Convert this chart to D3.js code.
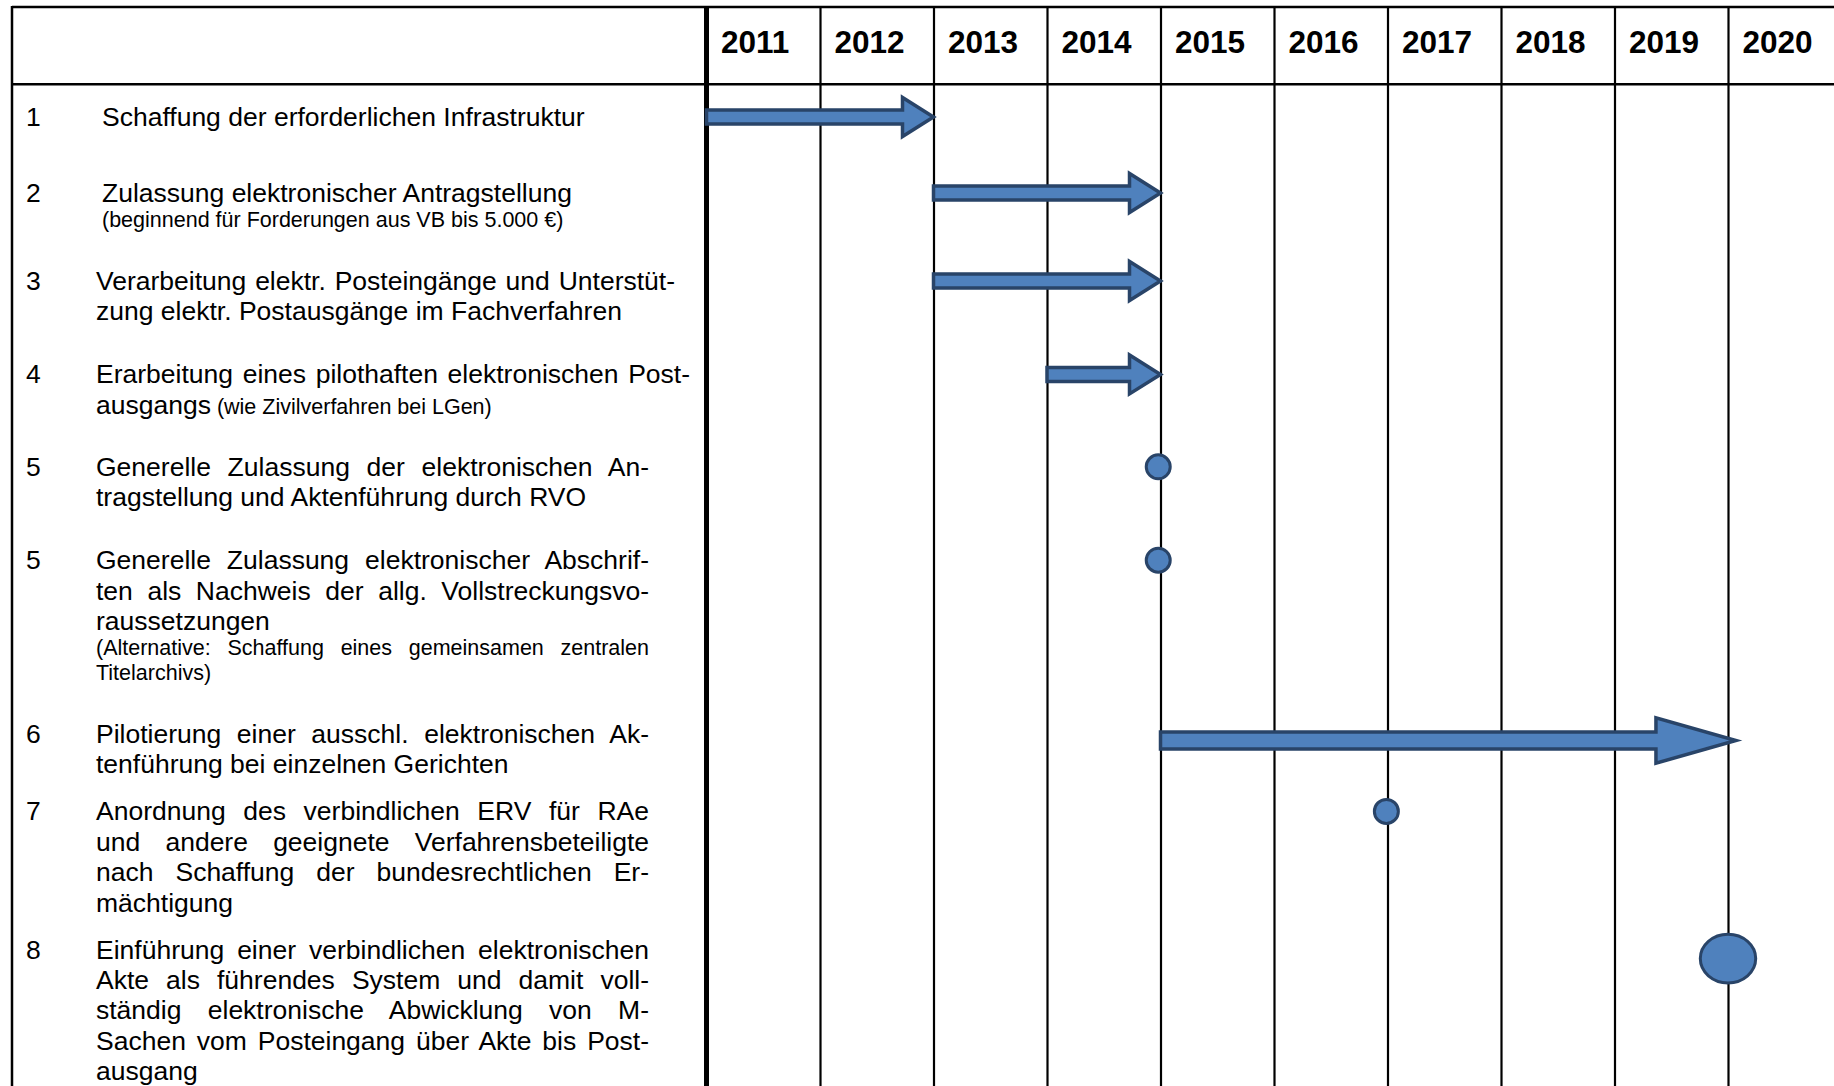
<!DOCTYPE html>
<html>
<head>
<meta charset="utf-8">
<script src="https://cdn.jsdelivr.net/npm/d3@7"></script>
<style>
body { margin: 0; background: #fff; }
svg { display: block; }
text { font-family: "Liberation Sans", Arial, sans-serif; fill: #000; }
</style>
</head>
<body>
<div id="chart"></div>
<script>
const W = 1834, H = 1086;

// --- data ---
const years = [2011, 2012, 2013, 2014, 2015, 2016, 2017, 2018, 2019, 2020];
const taskNo = ["1", "2", "3", "4", "5", "5", "6", "7", "8"];
// s = small print, j = justified line
const taskText = [
	[{t: "Schaffung der erforderlichen Infrastruktur"}],
	[{t: "Zulassung elektronischer Antragstellung"},
	 {t: "(beginnend für Forderungen aus VB bis 5.000 €)", s: true}],
	[{t: "Verarbeitung elektr. Posteingänge und Unterstüt-", j: true},
	 {t: "zung elektr. Postausgänge im Fachverfahren"}],
	[{t: "Erarbeitung eines pilothaften elektronischen Post-", j: true},
	 {t: "ausgangs", tail: " (wie Zivilverfahren bei LGen)"}],
	[{t: "Generelle Zulassung der elektronischen An-", j: true},
	 {t: "tragstellung und Aktenführung durch RVO"}],
	[{t: "Generelle Zulassung elektronischer Abschrif-", j: true},
	 {t: "ten als Nachweis der allg. Vollstreckungsvo-", j: true},
	 {t: "raussetzungen"},
	 {t: "(Alternative: Schaffung eines gemeinsamen zentralen", s: true, j: true},
	 {t: "Titelarchivs)", s: true}],
	[{t: "Pilotierung einer ausschl. elektronischen Ak-", j: true},
	 {t: "tenführung bei einzelnen Gerichten"}],
	[{t: "Anordnung des verbindlichen ERV für RAe", j: true},
	 {t: "und andere geeignete Verfahrensbeteiligte", j: true},
	 {t: "nach Schaffung der bundesrechtlichen Er-", j: true},
	 {t: "mächtigung"}],
	[{t: "Einführung einer verbindlichen elektronischen", j: true},
	 {t: "Akte als führendes System und damit voll-", j: true},
	 {t: "ständig elektronische Abwicklung von M-", j: true},
	 {t: "Sachen vom Posteingang über Akte bis Post-", j: true},
	 {t: "ausgang"}]
];
const arrowRow  = [0, 1, 2, 3, 6];
const arrowFrom = [2011, 2013, 2013, 2014, 2015];
const arrowTo   = [2013, 2015, 2015, 2015, 2020.07];
const dotRow  = [4, 5, 7, 8];
const dotYear = [2014.98, 2014.98, 2016.99, 2020];
const dotBig  = [false, false, false, true];

// --- layout ---
const FS = 26.5, FS_S = 21.5, LH = 30.4, LH_S = 25;
const rowGap = [76, 63, 63, 62, 63, 63, 47, 47];
const rowRight = [649, 649, 675, 690, 649, 649, 649, 649, 649];
const markNudge = [0, 0, 0, 0, 0, 0, 6.5, 0, 9];
const fill = "#4f81bd", edge = "#294468";

const svg = d3.select("#chart").append("svg")
	.attr("width", W)
	.attr("height", H);

const x = d3.scaleLinear().domain([2011, 2021]).range([706.5, 1841.5]);

// baselines of each text line
let base = 126;
const firstBase = [];
const lineBase = taskText.map((lines, i) => {
	firstBase.push(base);
	let b = base;
	const out = lines.map((ln, k) => {
		if (k > 0) b += ln.s ? LH_S : LH;
		return b;
	});
	base = b + rowGap[i];
	return out;
});

const y = d3.scaleOrdinal()
	.domain(d3.range(taskNo.length))
	.range(firstBase.map((b, i) => b - 9 + markNudge[i]));

// --- table frame ---
const grid = svg.append("g")
	.attr("transform", "translate(0,7)")
	.call(d3.axisBottom(x).tickValues(years.slice(1)).tickSize(H).tickFormat(""));
grid.select(".domain").remove();
grid.selectAll("line").attr("stroke", "#000").attr("stroke-width", 2.2);

svg.append("line")
	.attr("x1", 12).attr("x2", W).attr("y1", 7).attr("y2", 7)
	.attr("stroke", "#000").attr("stroke-width", 2.5);
svg.append("line")
	.attr("x1", 12).attr("x2", W).attr("y1", 84.3).attr("y2", 84.3)
	.attr("stroke", "#000").attr("stroke-width", 2.5);
svg.append("line")
	.attr("x1", 12).attr("x2", 12).attr("y1", 6).attr("y2", H)
	.attr("stroke", "#000").attr("stroke-width", 2.5);
svg.append("line")
	.attr("x1", x(2011)).attr("x2", x(2011)).attr("y1", 6).attr("y2", H)
	.attr("stroke", "#000").attr("stroke-width", 5);

// year header
svg.selectAll(".year")
	.data(years)
	.enter()
	.append("text")
	.attr("class", "year")
	.attr("x", (d) => x(d) + 14.5)
	.attr("y", 53)
	.attr("font-size", 31.5)
	.attr("font-weight", "bold")
	.text((d) => d);

// task numbers
svg.selectAll(".num")
	.data(taskNo)
	.enter()
	.append("text")
	.attr("class", "num")
	.attr("x", 26)
	.attr("y", (d, i) => firstBase[i])
	.attr("font-size", FS)
	.text((d) => d);

// task descriptions
taskText.forEach((lines, i) => {
	const x0 = i < 2 ? 102 : 96;
	lines.forEach((ln, k) => {
		const t = svg.append("text")
			.attr("x", x0)
			.attr("y", lineBase[i][k])
			.attr("font-size", ln.s ? FS_S : FS)
			.text(ln.t);
		if (ln.tail) {
			t.append("tspan").attr("font-size", FS_S).text(ln.tail);
		}
		if (ln.j) {
			const gaps = ln.t.split(" ").length - 1;
			const natural = t.node().getComputedTextLength();
			if (gaps > 0) t.attr("word-spacing", (rowRight[i] - x0 - natural) / gaps);
		}
	});
});

// arrows
function arrowPath(x0, x1, yc, big) {
	const hl = big ? 80 : 31, hh = big ? 22.7 : 19.5, bh = big ? 8.6 : 7;
	const xb = x1 - hl;
	const p = d3.path();
	p.moveTo(x0, yc - bh);
	p.lineTo(xb, yc - bh);
	p.lineTo(xb, yc - hh);
	p.lineTo(x1, yc);
	p.lineTo(xb, yc + hh);
	p.lineTo(xb, yc + bh);
	p.lineTo(x0, yc + bh);
	p.closePath();
	return p.toString();
}

svg.selectAll(".arrow")
	.data(arrowRow)
	.enter()
	.append("path")
	.attr("class", "arrow")
	.attr("d", (d, i) => arrowPath(x(arrowFrom[i]), x(arrowTo[i]), y(d), arrowTo[i] - arrowFrom[i] > 3))
	.attr("fill", fill)
	.attr("stroke", edge)
	.attr("stroke-width", 3.5)
	.attr("stroke-linejoin", "miter")
	.attr("stroke-miterlimit", 10);

// milestones
svg.selectAll(".dot")
	.data(dotRow)
	.enter()
	.append("ellipse")
	.attr("class", "dot")
	.attr("cx", (d, i) => x(dotYear[i]))
	.attr("cy", (d) => y(d))
	.attr("rx", (d, i) => dotBig[i] ? 27.7 : 12)
	.attr("ry", (d, i) => dotBig[i] ? 24.3 : 12)
	.attr("fill", fill)
	.attr("stroke", edge)
	.attr("stroke-width", 3);
</script>
</body>
</html>
